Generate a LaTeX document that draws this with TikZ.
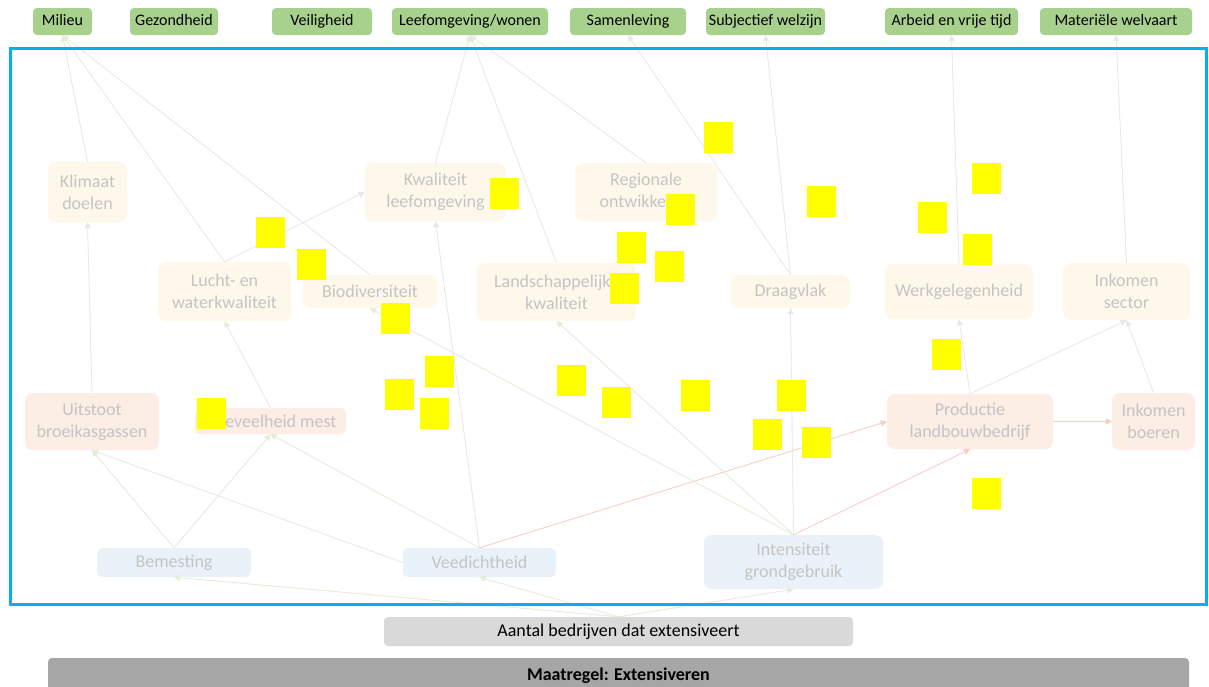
\documentclass[tikz,border=0pt]{standalone}
\usepackage{fontspec}
\setmainfont{Carlito}
\usetikzlibrary{arrows.meta}
\definecolor{topgreen}{RGB}{169,209,142}
\definecolor{fadetext}{RGB}{196,196,196}
\definecolor{creamfill}{RGB}{254,248,235}
\definecolor{pinkfill}{RGB}{252,237,229}
\definecolor{bluefill}{RGB}{233,241,249}
\definecolor{stickyc}{RGB}{255,255,0}
\definecolor{framec}{RGB}{0,176,240}
\definecolor{edgegreen}{RGB}{226,238,216}
\definecolor{edgegray}{RGB}{232,232,232}
\definecolor{edgered}{RGB}{250,204,196}
\definecolor{lightbox}{RGB}{217,217,217}
\definecolor{darkbox}{RGB}{166,166,166}
\begin{document}
\begin{tikzpicture}[x=1pt,y=-1pt,
  topbox/.style={fill=topgreen, rounded corners=4pt, inner sep=0pt, minimum height=27pt,
    text height=11pt, text depth=3.5pt,
    font=\fontsize{16}{19}\selectfont, text=black},
  fad/.style={rounded corners=8pt, inner sep=0pt, align=center, text=fadetext,
    font=\fontsize{18}{22}\selectfont},
  creamn/.style={fad, fill=creamfill},
  pinkn/.style={fad, fill=pinkfill},
  bluen/.style={fad, fill=bluefill},
  ed/.style={line width=0.8pt, -{Triangle[width=6pt,length=6pt]}},
  edg/.style={ed, draw=edgegreen, fill=edgegreen},
  edgr/.style={ed, draw=edgegray, fill=edgegray},
  edr/.style={ed, draw=edgered, fill=edgered},
  stickybox/.style={fill=stickyc}
]
\useasboundingbox (0,0) rectangle (1209,686);
\clip (0,0) rectangle (1209,686);
\fill[white] (0,0) rectangle (1209,686);

% top outcome boxes
\node[topbox, minimum width=59pt]  (milieu) at (62.5,21.5) {Milieu};
\node[topbox, minimum width=88pt]  (gez)    at (174,21.5) {Gezondheid};
\node[topbox, minimum width=100pt] (veil)   at (322,21.5) {Veiligheid};
\node[topbox, minimum width=156pt] (leef)   at (470,21.5) {Leefomgeving/wonen};
\node[topbox, minimum width=116pt] (samen)  at (628,21.5) {Samenleving};
\node[topbox, minimum width=119pt] (subj)   at (765.5,21.5) {Subjectief welzijn};
\node[topbox, minimum width=133pt] (arbeid) at (951.5,21.5) {Arbeid en vrije tijd};
\node[topbox, minimum width=152pt] (mat)    at (1116,21.5) {Materiële welvaart};

% faded effect nodes
\node[creamn, minimum width=79pt,  minimum height=60pt] (klim)  at (87.5,192)   {Klimaat\\doelen};
\node[creamn, minimum width=141pt, minimum height=58pt] (kwal)  at (435.5,192)  {Kwaliteit\\leefomgeving};
\node[creamn, minimum width=142pt, minimum height=58pt] (reg)   at (646,192)    {Regionale\\ontwikkeling};
\node[creamn, minimum width=133pt, minimum height=59pt] (lucht) at (224.5,291.5){Lucht- en\\waterkwaliteit};
\node[creamn, minimum width=134pt, minimum height=33pt] (bio)   at (370,291.5)  {Biodiversiteit};
\node[creamn, minimum width=159pt, minimum height=58pt] (land)  at (556.5,292)  {Landschappelijke\\kwaliteit};
\node[creamn, minimum width=119pt, minimum height=33pt] (draag) at (790.5,291.5){Draagvlak};
\node[creamn, minimum width=148pt, minimum height=55pt] (werk)  at (959,291.5)  {Werkgelegenheid};
\node[creamn, minimum width=127pt, minimum height=57pt] (inks)  at (1126.5,291.5){Inkomen\\sector};
\node[pinkn, minimum width=134pt, minimum height=57pt] (uit)   at (92,421.5)   {Uitstoot\\broeikasgassen};
\node[pinkn, minimum width=151pt, minimum height=26pt, rounded corners=5pt] (mest) at (270.5,421) {Hoeveelheid mest};
\node[pinkn, minimum width=166pt, minimum height=55pt] (prod)  at (970,421.5)  {Productie\\landbouwbedrijf};
\node[pinkn, minimum width=83pt,  minimum height=57pt] (inkb)  at (1153.5,421.5){Inkomen\\boeren};
\node[bluen, minimum width=154pt, minimum height=29pt, rounded corners=5pt] (bem)  at (174,562.5)  {Bemesting};
\node[bluen, minimum width=153pt, minimum height=29pt, rounded corners=5pt] (veed) at (479.5,562.5){Veedichtheid};
\node[bluen, minimum width=179pt, minimum height=54pt] (int)   at (793.5,562)  {Intensiteit\\grondgebruik};

% bottom boxes
\node[fill=lightbox, rounded corners=4pt, minimum width=469pt, minimum height=29pt, inner sep=0pt,
  font=\fontsize{18}{21}\selectfont] (aantal) at (618.5,631.5) {Aantal bedrijven dat extensiveert};
\node[fill=darkbox, rounded corners=4pt, minimum width=1141pt, minimum height=36pt, inner sep=0pt,
  font=\bfseries\fontsize{18}{21}\selectfont] (maat) at (618.5,676) {Maatregel: Extensiveren};

% connectors to the top boxes
\draw[edg] (klim.north)  -- (milieu.south);
\draw[edg] (lucht.north) -- (milieu.south);
\draw[edg] (bio.north)   -- (milieu.south);
\draw[edg] (kwal.north)  -- (leef.south);
\draw[edg] (land.north)  -- (leef.south);
\draw[edgr] (reg.north)  -- (leef.south);
\draw[edgr] (draag.north) -- (samen.south);
\draw[edgr] (draag.north) -- (subj.south);
\draw[edgr] (werk.north)  -- (arbeid.south);
\draw[edgr] (inks.north)  -- (mat.south);

% inner connectors
\draw[edgr] (uit.north)   -- (klim.south);
\draw[edg]  (mest.north)  -- (lucht.south);
\draw[edgr] (lucht.north) -- (kwal.west);
\draw[edg]  (bem.north)   -- (uit.south);
\draw[edg]  (bem.north)   -- (mest.south);
\draw[edg]  (veed.west)   -- (uit.south);
\draw[edg]  (veed.north)  -- (mest.south);
\draw[edgr] (veed.north)  -- (kwal.south);
\draw[edr]  (veed.north)  -- (prod.west);
\draw[edg]  (int.north)   -- (bio.south);
\draw[edg]  (int.north)   -- (land.south);
\draw[edgr] (int.north)   -- (draag.south);
\draw[edr]  (int.north)   -- (prod.south);
\draw[edgr] (prod.north)  -- (werk.south);
\draw[edgr] (prod.north)  -- (inks.south);
\draw[edgr] (inkb.north)  -- (inks.south);
\draw[edr]  (prod.east)   -- (inkb.west);
\draw[edg]  (aantal.north) -- (bem.south);
\draw[edg]  (aantal.north) -- (veed.south);
\draw[edg]  (aantal.north) -- (int.south);

% frame
\draw[framec, line width=3pt] (10,48) rectangle (1206,604);

% sticky notes
\foreach \sx/\sy in {704/122, 490/178, 807/186, 972/163, 918/202, 963/234, 666/194,
  256/217, 297/249, 381/303, 617/232, 655/251, 610/273, 932/339, 425/356, 385/379,
  420/398, 557/365, 602/387, 681/380, 777/380, 753/419, 802/427, 972/478, 197/398}
  \fill[stickybox] (\sx,\sy) rectangle ++(29,31);
\end{tikzpicture}
\end{document}
